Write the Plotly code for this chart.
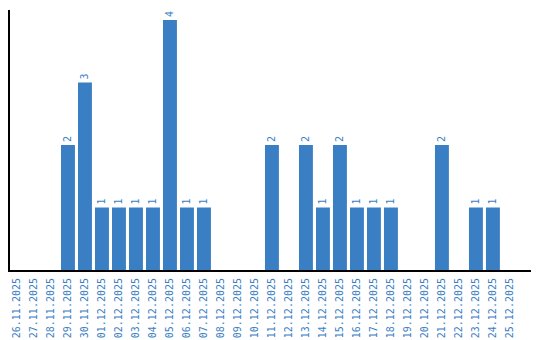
import plotly.graph_objects as go

dates = ["26.11.2025", "27.11.2025", "28.11.2025", "29.11.2025", "30.11.2025",
         "01.12.2025", "02.12.2025", "03.12.2025", "04.12.2025", "05.12.2025",
         "06.12.2025", "07.12.2025", "08.12.2025", "09.12.2025", "10.12.2025",
         "11.12.2025", "12.12.2025", "13.12.2025", "14.12.2025", "15.12.2025",
         "16.12.2025", "17.12.2025", "18.12.2025", "19.12.2025", "20.12.2025",
         "21.12.2025", "22.12.2025", "23.12.2025", "24.12.2025", "25.12.2025"]
counts = [0, 0, 0, 2, 3, 1, 1, 1, 1, 4, 1, 1, 0, 0, 0, 2, 0, 2, 1, 2, 1, 1, 1, 0, 0, 2, 0, 1, 1, 0]

color = "#3a7ec4"
labels = [str(v) if v > 0 else "" for v in counts]

fig = go.Figure(go.Bar(
    x=list(range(len(dates))), y=counts, marker_color=color, marker_line_width=0,
    text=labels, textposition="outside", textangle=-90, cliponaxis=False,
    textfont=dict(family="DejaVu Sans Mono", size=10, color=color),
))
fig.update_layout(
    width=540, height=340, margin=dict(l=10, r=9, t=10, b=70),
    paper_bgcolor="white", plot_bgcolor="white", bargap=0.18, showlegend=False,
    font=dict(family="DejaVu Sans Mono", size=10, color=color),
)
fig.update_xaxes(tickmode="array", tickvals=list(range(len(dates))), ticktext=dates,
                 tickangle=-90, range=[-0.41, 30.24], showline=True, linecolor="black",
                 linewidth=2, showgrid=False, zeroline=False, ticks="", automargin=False,
                 ticklabelstandoff=2,
                 tickfont=dict(family="DejaVu Sans Mono", size=10, color=color))
fig.update_yaxes(range=[0, 4.16], showline=True, linecolor="black", linewidth=2,
                 showgrid=False, zeroline=False, showticklabels=False, ticks="")
fig.write_html("out.html")
